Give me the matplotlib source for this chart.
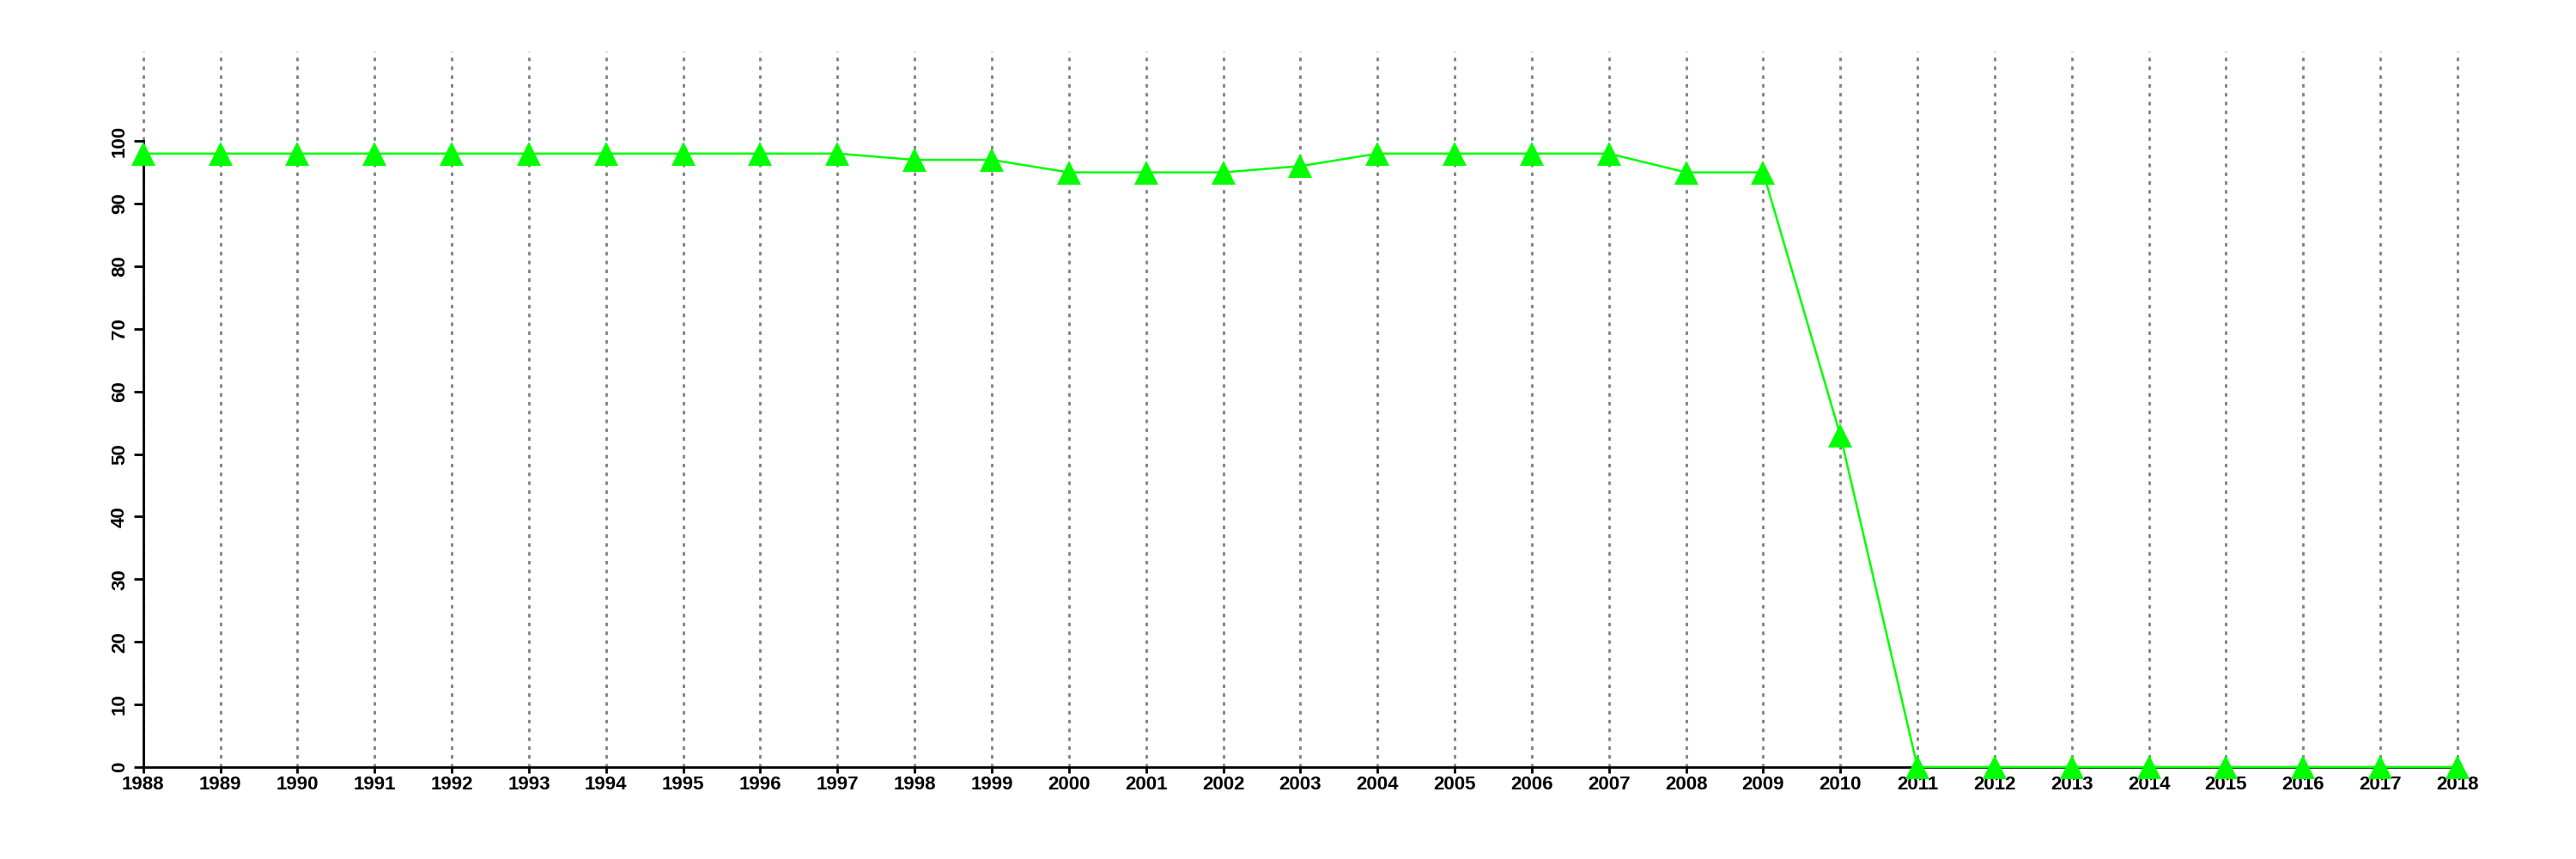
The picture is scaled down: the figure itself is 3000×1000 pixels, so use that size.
import matplotlib
matplotlib.use("Agg")
import matplotlib.pyplot as plt

years = list(range(1988, 2019))
values = [98, 98, 98, 98, 98, 98, 98, 98, 98, 98,
          97, 97, 95, 95, 95, 96, 98, 98, 98, 98,
          95, 95, 53, 0, 0, 0, 0, 0, 0, 0, 0]
yticks = list(range(0, 101, 10))

plt.rcParams['font.family'] = ['Liberation Sans', 'DejaVu Sans']

fig = plt.figure(figsize=(30, 10), dpi=100)
ax = fig.add_axes([166.7 / 3000, 0.107, (2862 - 166.7) / 3000, 0.833])

# vertical dotted grid, one line per year
for yr in years:
    ax.axvline(yr, color='#808080', linestyle=(0, (1.5, 2.2)), linewidth=2,
               zorder=1, clip_on=False)

ax.plot(years, values, color='#00FF00', linewidth=1.8, marker='^',
        markersize=20, markeredgewidth=0, clip_on=False, zorder=3)

ax.set_xlim(1988, 2018)
ax.set_ylim(0, 114.3)
ax.set_xticks(years)
ax.set_xticklabels([str(y) for y in years], fontsize=16, fontweight='bold')
ax.set_yticks(yticks)
ax.set_yticklabels([str(v) for v in yticks], fontsize=16, fontweight='bold',
                   rotation=90, va='center')

for s in ['top', 'right']:
    ax.spines[s].set_visible(False)
ax.spines['left'].set_bounds(0, 100)
ax.spines['bottom'].set_bounds(1988, 2018)
ax.spines['left'].set_linewidth(2)
ax.spines['bottom'].set_linewidth(2)
ax.tick_params(axis='y', length=8, width=2, pad=4)
ax.tick_params(axis='x', length=5, width=2, pad=2)

fig.savefig("out.png", dpi=100)
